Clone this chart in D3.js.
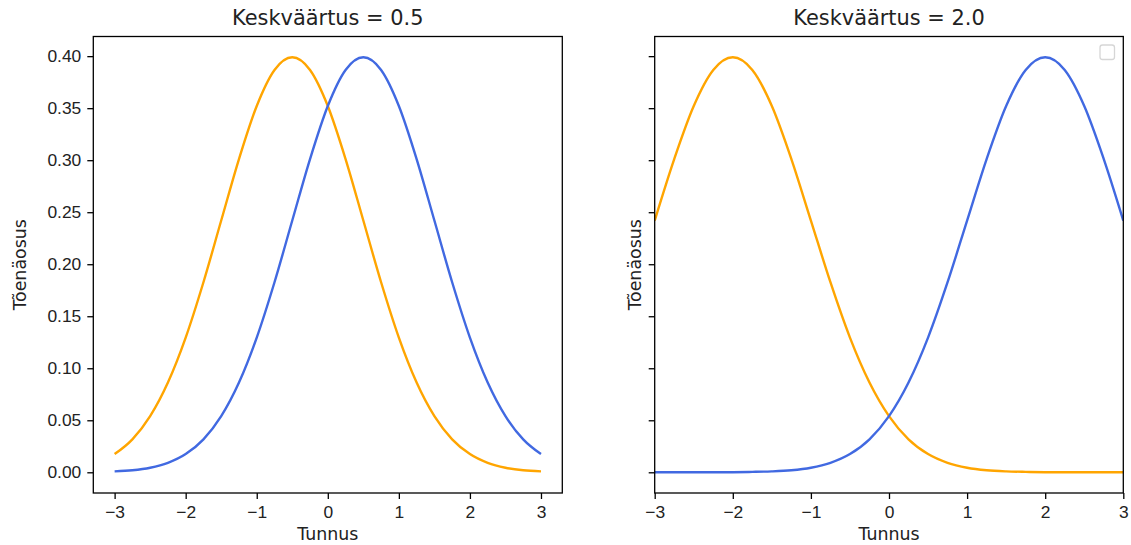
<!DOCTYPE html>
<html>
<head>
<meta charset="utf-8">
<script src="https://cdn.jsdelivr.net/npm/d3@7"></script>
<style>
  html, body { margin: 0; padding: 0; background: #fff; }
  svg { display: block; font-family: "DejaVu Sans", sans-serif; }
</style>
</head>
<body>
<svg id="chart" width="1131" height="545"></svg>
<script>
// Feature values on the x axis
const xValues = [-3, -2.75, -2.5, -2.25, -2, -1.75, -1.5, -1.25, -1, -0.75, -0.5, -0.25,
  0, 0.25, 0.5, 0.75, 1, 1.25, 1.5, 1.75, 2, 2.25, 2.5, 2.75, 3];

// Density curves, mean ±0.5
const leftOrange = [0.0175, 0.0317, 0.0540, 0.0863, 0.1295, 0.1827, 0.2420, 0.3011, 0.3521, 0.3867,
  0.3989, 0.3867, 0.3521, 0.3011, 0.2420, 0.1827, 0.1295, 0.0863, 0.0540, 0.0317, 0.0175, 0.0091,
  0.0044, 0.0020, 0.0009];
const leftBlue = [0.0009, 0.0020, 0.0044, 0.0091, 0.0175, 0.0317, 0.0540, 0.0863, 0.1295, 0.1827,
  0.2420, 0.3011, 0.3521, 0.3867, 0.3989, 0.3867, 0.3521, 0.3011, 0.2420, 0.1827, 0.1295, 0.0863,
  0.0540, 0.0317, 0.0175];

// Density curves, mean ±2.0
const rightOrange = [0.2420, 0.3011, 0.3521, 0.3867, 0.3989, 0.3867, 0.3521, 0.3011, 0.2420, 0.1827,
  0.1295, 0.0863, 0.0540, 0.0317, 0.0175, 0.0091, 0.0044, 0.0020, 0.0009, 0.0004, 0.0001, 0.0000,
  0.0000, 0.0000, 0.0000];
const rightBlue = [0.0000, 0.0000, 0.0000, 0.0000, 0.0001, 0.0004, 0.0009, 0.0020, 0.0044, 0.0091,
  0.0175, 0.0317, 0.0540, 0.0863, 0.1295, 0.1827, 0.2420, 0.3011, 0.3521, 0.3867, 0.3989, 0.3867,
  0.3521, 0.3011, 0.2420];

const xTicks = [-3, -2, -1, 0, 1, 2, 3];
const yTicks = [0.00, 0.05, 0.10, 0.15, 0.20, 0.25, 0.30, 0.35, 0.40];
const titles = ["Keskväärtus = 0.5", "Keskväärtus = 2.0"];
const xLabel = "Tunnus";
const yLabel = "Tõenäosus";

const svg = d3.select("#chart");
const plotTop = 36.5, plotBottom = 493;
const y = d3.scaleLinear().domain([-0.0199, 0.4189]).range([plotBottom, plotTop]);

const panels = [
  { left: 93.3, right: 562.3, xDomain: [-3.3, 3.3], series: [leftOrange, leftBlue], title: titles[0], yLabels: true, legend: false },
  { left: 654.7, right: 1123.3, xDomain: [-3, 3], series: [rightOrange, rightBlue], title: titles[1], yLabels: false, legend: true }
];
const colors = ["#FFA500", "#4169E1"];
const fmtMinus = v => (v < 0 ? "\u2212" + Math.abs(v) : String(v));

panels.forEach((p, i) => {
  const x = d3.scaleLinear().domain(p.xDomain).range([p.left, p.right]);
  const g = svg.append("g");

  const clipId = "clip" + i;
  svg.append("clipPath").attr("id", clipId)
    .append("rect").attr("x", p.left).attr("y", plotTop).attr("width", p.right - p.left).attr("height", plotBottom - plotTop);

  const line = d3.line().x((d, k) => x(xValues[k])).y(d => y(d)).curve(d3.curveMonotoneX);
  p.series.forEach((s, k) => {
    g.append("path").datum(s)
      .attr("d", line)
      .attr("fill", "none")
      .attr("stroke", colors[k])
      .attr("stroke-width", 2.4)
      .attr("stroke-linejoin", "round")
      .attr("clip-path", `url(#${clipId})`);
  });

  // x axis
  const xAxis = d3.axisBottom(x).tickValues(xTicks).tickSize(6).tickPadding(5).tickFormat(fmtMinus);
  const gx = g.append("g").attr("transform", `translate(0,${plotBottom})`).call(xAxis);
  gx.select(".domain").remove();
  gx.selectAll(".tick line").attr("stroke", "#000").attr("stroke-width", 1.3);
  gx.selectAll(".tick text").attr("fill", "#222").style("font-size", "17.4px").attr("dy", "0.8em");

  // y axis
  const yAxis = d3.axisLeft(y).tickValues(yTicks).tickSize(6).tickPadding(6)
    .tickFormat(p.yLabels ? d3.format(".2f") : () => "");
  const gy = g.append("g").attr("transform", `translate(${p.left},0)`).call(yAxis);
  gy.select(".domain").remove();
  gy.selectAll(".tick line").attr("stroke", "#000").attr("stroke-width", 1.3);
  gy.selectAll(".tick text").attr("fill", "#222").style("font-size", "17.4px");

  // frame
  g.append("rect")
    .attr("x", p.left).attr("y", plotTop)
    .attr("width", p.right - p.left).attr("height", plotBottom - plotTop)
    .attr("fill", "none").attr("stroke", "#000").attr("stroke-width", 1.3);

  // title
  g.append("text")
    .attr("x", (p.left + p.right) / 2).attr("y", 25)
    .attr("text-anchor", "middle")
    .attr("fill", "#222")
    .style("font-size", "20.9px")
    .text(p.title);

  // axis labels
  g.append("text")
    .attr("x", (p.left + p.right) / 2).attr("y", 540)
    .attr("text-anchor", "middle")
    .attr("fill", "#222")
    .style("font-size", "17.4px")
    .text(xLabel);

  const ylx = p.yLabels ? 26 : 641;
  g.append("text")
    .attr("transform", `translate(${ylx},${(plotTop + plotBottom) / 2}) rotate(-90)`)
    .attr("text-anchor", "middle")
    .attr("fill", "#222")
    .style("font-size", "17.4px")
    .text(yLabel);

  // empty legend frame
  if (p.legend) {
    g.append("rect")
      .attr("x", 1100).attr("y", 45).attr("width", 14.5).attr("height", 14.5)
      .attr("rx", 2.5)
      .attr("fill", "#fff").attr("fill-opacity", 0.8)
      .attr("stroke", "#d6d6d6").attr("stroke-width", 1.3);
  }
});
</script>
</body>
</html>
